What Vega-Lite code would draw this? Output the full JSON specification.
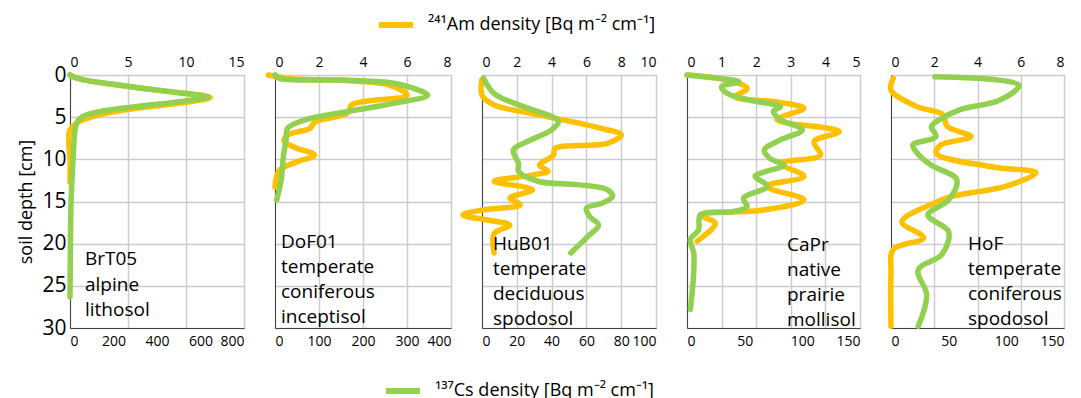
{
  "$schema": "https://vega.github.io/schema/vega-lite/v6.json",
  "padding": {"left": 17, "top": 5, "right": 5, "bottom": 5},
  "datasets": {
    "profiles": [
      {"site":"BrT05","nuclide":"Cs","depth":0,"value":0},
      {"site":"BrT05","nuclide":"Cs","depth":0.3,"value":25},
      {"site":"BrT05","nuclide":"Cs","depth":0.7,"value":90},
      {"site":"BrT05","nuclide":"Cs","depth":1.1,"value":200},
      {"site":"BrT05","nuclide":"Cs","depth":1.6,"value":340},
      {"site":"BrT05","nuclide":"Cs","depth":2.1,"value":500},
      {"site":"BrT05","nuclide":"Cs","depth":2.6,"value":635},
      {"site":"BrT05","nuclide":"Cs","depth":3.1,"value":520},
      {"site":"BrT05","nuclide":"Cs","depth":3.75,"value":300},
      {"site":"BrT05","nuclide":"Cs","depth":4.3,"value":145},
      {"site":"BrT05","nuclide":"Cs","depth":4.9,"value":60},
      {"site":"BrT05","nuclide":"Cs","depth":5.5,"value":35},
      {"site":"BrT05","nuclide":"Cs","depth":6.2,"value":25},
      {"site":"BrT05","nuclide":"Cs","depth":8,"value":18},
      {"site":"BrT05","nuclide":"Cs","depth":10,"value":14},
      {"site":"BrT05","nuclide":"Cs","depth":13,"value":8},
      {"site":"BrT05","nuclide":"Cs","depth":16,"value":4},
      {"site":"BrT05","nuclide":"Cs","depth":20,"value":2},
      {"site":"BrT05","nuclide":"Cs","depth":26.3,"value":0},
      {"site":"BrT05","nuclide":"Am","depth":0,"value":0},
      {"site":"BrT05","nuclide":"Am","depth":0.3,"value":0.4},
      {"site":"BrT05","nuclide":"Am","depth":0.7,"value":1.6},
      {"site":"BrT05","nuclide":"Am","depth":1.1,"value":3.6},
      {"site":"BrT05","nuclide":"Am","depth":1.6,"value":6.3},
      {"site":"BrT05","nuclide":"Am","depth":2.1,"value":9.4},
      {"site":"BrT05","nuclide":"Am","depth":2.65,"value":12.1},
      {"site":"BrT05","nuclide":"Am","depth":3.2,"value":10.2},
      {"site":"BrT05","nuclide":"Am","depth":3.8,"value":6.5},
      {"site":"BrT05","nuclide":"Am","depth":4.4,"value":3.6},
      {"site":"BrT05","nuclide":"Am","depth":5,"value":1.8},
      {"site":"BrT05","nuclide":"Am","depth":5.6,"value":0.7},
      {"site":"BrT05","nuclide":"Am","depth":6.5,"value":0},
      {"site":"BrT05","nuclide":"Am","depth":8,"value":-0.1},
      {"site":"BrT05","nuclide":"Am","depth":10,"value":0},
      {"site":"BrT05","nuclide":"Am","depth":12.7,"value":0},

      {"site":"DoF01","nuclide":"Cs","depth":0,"value":0},
      {"site":"DoF01","nuclide":"Cs","depth":0.4,"value":10},
      {"site":"DoF01","nuclide":"Cs","depth":0.6,"value":150},
      {"site":"DoF01","nuclide":"Cs","depth":0.9,"value":260},
      {"site":"DoF01","nuclide":"Cs","depth":1.5,"value":310},
      {"site":"DoF01","nuclide":"Cs","depth":2.4,"value":347},
      {"site":"DoF01","nuclide":"Cs","depth":3.3,"value":275},
      {"site":"DoF01","nuclide":"Cs","depth":4.3,"value":170},
      {"site":"DoF01","nuclide":"Cs","depth":5.3,"value":70},
      {"site":"DoF01","nuclide":"Cs","depth":6.3,"value":29},
      {"site":"DoF01","nuclide":"Cs","depth":7.7,"value":25},
      {"site":"DoF01","nuclide":"Cs","depth":9.7,"value":19},
      {"site":"DoF01","nuclide":"Cs","depth":12.4,"value":14},
      {"site":"DoF01","nuclide":"Cs","depth":14.8,"value":4},
      {"site":"DoF01","nuclide":"Am","depth":0,"value":-0.3},
      {"site":"DoF01","nuclide":"Am","depth":0.4,"value":0.6},
      {"site":"DoF01","nuclide":"Am","depth":0.7,"value":3.5},
      {"site":"DoF01","nuclide":"Am","depth":1.2,"value":5.2},
      {"site":"DoF01","nuclide":"Am","depth":2.4,"value":6.0},
      {"site":"DoF01","nuclide":"Am","depth":3.5,"value":3.5},
      {"site":"DoF01","nuclide":"Am","depth":4.5,"value":3.3},
      {"site":"DoF01","nuclide":"Am","depth":5.6,"value":1.8},
      {"site":"DoF01","nuclide":"Am","depth":6.3,"value":1.6},
      {"site":"DoF01","nuclide":"Am","depth":7.1,"value":0.6},
      {"site":"DoF01","nuclide":"Am","depth":7.8,"value":0.4},
      {"site":"DoF01","nuclide":"Am","depth":8.6,"value":0.9},
      {"site":"DoF01","nuclide":"Am","depth":9.5,"value":1.8},
      {"site":"DoF01","nuclide":"Am","depth":10.3,"value":1.0},
      {"site":"DoF01","nuclide":"Am","depth":11.3,"value":0.2},
      {"site":"DoF01","nuclide":"Am","depth":13.3,"value":0},

      {"site":"HuB01","nuclide":"Cs","depth":0.4,"value":1},
      {"site":"HuB01","nuclide":"Cs","depth":2.2,"value":7},
      {"site":"HuB01","nuclide":"Cs","depth":3.9,"value":26},
      {"site":"HuB01","nuclide":"Cs","depth":4.9,"value":40},
      {"site":"HuB01","nuclide":"Cs","depth":5.5,"value":44},
      {"site":"HuB01","nuclide":"Cs","depth":6.5,"value":40},
      {"site":"HuB01","nuclide":"Cs","depth":7.9,"value":26},
      {"site":"HuB01","nuclide":"Cs","depth":8.9,"value":18},
      {"site":"HuB01","nuclide":"Cs","depth":10.5,"value":21},
      {"site":"HuB01","nuclide":"Cs","depth":11.4,"value":21},
      {"site":"HuB01","nuclide":"Cs","depth":12.6,"value":32},
      {"site":"HuB01","nuclide":"Cs","depth":13,"value":55},
      {"site":"HuB01","nuclide":"Cs","depth":13.6,"value":72},
      {"site":"HuB01","nuclide":"Cs","depth":14.4,"value":75},
      {"site":"HuB01","nuclide":"Cs","depth":15.2,"value":69},
      {"site":"HuB01","nuclide":"Cs","depth":15.8,"value":60},
      {"site":"HuB01","nuclide":"Cs","depth":16.8,"value":62},
      {"site":"HuB01","nuclide":"Cs","depth":17.8,"value":67},
      {"site":"HuB01","nuclide":"Cs","depth":19.1,"value":61},
      {"site":"HuB01","nuclide":"Cs","depth":21.1,"value":51},
      {"site":"HuB01","nuclide":"Am","depth":0.5,"value":0},
      {"site":"HuB01","nuclide":"Am","depth":2.4,"value":0},
      {"site":"HuB01","nuclide":"Am","depth":3.55,"value":0.7},
      {"site":"HuB01","nuclide":"Am","depth":4.7,"value":3.2},
      {"site":"HuB01","nuclide":"Am","depth":6.3,"value":6.8},
      {"site":"HuB01","nuclide":"Am","depth":7.1,"value":8.0},
      {"site":"HuB01","nuclide":"Am","depth":8.1,"value":7.2},
      {"site":"HuB01","nuclide":"Am","depth":8.7,"value":4.2},
      {"site":"HuB01","nuclide":"Am","depth":9.5,"value":4.1},
      {"site":"HuB01","nuclide":"Am","depth":10.7,"value":3.3},
      {"site":"HuB01","nuclide":"Am","depth":11.4,"value":3.8},
      {"site":"HuB01","nuclide":"Am","depth":11.9,"value":2.8},
      {"site":"HuB01","nuclide":"Am","depth":12.6,"value":0.7},
      {"site":"HuB01","nuclide":"Am","depth":13.6,"value":2.9},
      {"site":"HuB01","nuclide":"Am","depth":14.6,"value":1.6},
      {"site":"HuB01","nuclide":"Am","depth":15.4,"value":2.2},
      {"site":"HuB01","nuclide":"Am","depth":16,"value":0},
      {"site":"HuB01","nuclide":"Am","depth":16.6,"value":-1.1},
      {"site":"HuB01","nuclide":"Am","depth":17.2,"value":0.3},
      {"site":"HuB01","nuclide":"Am","depth":17.8,"value":1.6},
      {"site":"HuB01","nuclide":"Am","depth":18.8,"value":0.7},
      {"site":"HuB01","nuclide":"Am","depth":21.1,"value":0.7},

      {"site":"CaPr","nuclide":"Cs","depth":0,"value":0},
      {"site":"CaPr","nuclide":"Cs","depth":0.4,"value":27.5},
      {"site":"CaPr","nuclide":"Cs","depth":0.8,"value":45},
      {"site":"CaPr","nuclide":"Cs","depth":1.4,"value":30},
      {"site":"CaPr","nuclide":"Cs","depth":2.2,"value":35},
      {"site":"CaPr","nuclide":"Cs","depth":3.0,"value":55},
      {"site":"CaPr","nuclide":"Cs","depth":3.75,"value":81},
      {"site":"CaPr","nuclide":"Cs","depth":4.3,"value":75},
      {"site":"CaPr","nuclide":"Cs","depth":5.3,"value":81},
      {"site":"CaPr","nuclide":"Cs","depth":6.5,"value":100},
      {"site":"CaPr","nuclide":"Cs","depth":7.7,"value":81},
      {"site":"CaPr","nuclide":"Cs","depth":8.9,"value":67},
      {"site":"CaPr","nuclide":"Cs","depth":9.9,"value":72},
      {"site":"CaPr","nuclide":"Cs","depth":10.7,"value":84},
      {"site":"CaPr","nuclide":"Cs","depth":11.5,"value":67},
      {"site":"CaPr","nuclide":"Cs","depth":12.0,"value":59},
      {"site":"CaPr","nuclide":"Cs","depth":13.2,"value":69.5},
      {"site":"CaPr","nuclide":"Cs","depth":14.6,"value":49},
      {"site":"CaPr","nuclide":"Cs","depth":15.6,"value":52},
      {"site":"CaPr","nuclide":"Cs","depth":16.2,"value":40},
      {"site":"CaPr","nuclide":"Cs","depth":16.6,"value":11.6},
      {"site":"CaPr","nuclide":"Cs","depth":18.4,"value":10},
      {"site":"CaPr","nuclide":"Cs","depth":19.5,"value":2.9},
      {"site":"CaPr","nuclide":"Cs","depth":21.1,"value":5.8},
      {"site":"CaPr","nuclide":"Cs","depth":23.5,"value":5.8},
      {"site":"CaPr","nuclide":"Cs","depth":27.8,"value":2.9},
      {"site":"CaPr","nuclide":"Am","depth":0,"value":0},
      {"site":"CaPr","nuclide":"Am","depth":0.6,"value":1.16},
      {"site":"CaPr","nuclide":"Am","depth":1.6,"value":1.74},
      {"site":"CaPr","nuclide":"Am","depth":2.6,"value":1.4},
      {"site":"CaPr","nuclide":"Am","depth":3.2,"value":2.6},
      {"site":"CaPr","nuclide":"Am","depth":3.95,"value":3.38},
      {"site":"CaPr","nuclide":"Am","depth":5.3,"value":2.6},
      {"site":"CaPr","nuclide":"Am","depth":6.7,"value":4.4},
      {"site":"CaPr","nuclide":"Am","depth":7.9,"value":3.67},
      {"site":"CaPr","nuclide":"Am","depth":9.5,"value":3.86},
      {"site":"CaPr","nuclide":"Am","depth":10.5,"value":2.7},
      {"site":"CaPr","nuclide":"Am","depth":12,"value":3.38},
      {"site":"CaPr","nuclide":"Am","depth":13.2,"value":2.3},
      {"site":"CaPr","nuclide":"Am","depth":14.8,"value":3.38},
      {"site":"CaPr","nuclide":"Am","depth":16,"value":2.22},
      {"site":"CaPr","nuclide":"Am","depth":16.6,"value":0.39},
      {"site":"CaPr","nuclide":"Am","depth":17.6,"value":0.82},
      {"site":"CaPr","nuclide":"Am","depth":19.7,"value":0.29},

      {"site":"HoF","nuclide":"Cs","depth":0.2,"value":38},
      {"site":"HoF","nuclide":"Cs","depth":1.2,"value":111},
      {"site":"HoF","nuclide":"Cs","depth":3.0,"value":94},
      {"site":"HoF","nuclide":"Cs","depth":4.1,"value":60},
      {"site":"HoF","nuclide":"Cs","depth":5.3,"value":42},
      {"site":"HoF","nuclide":"Cs","depth":6.1,"value":35},
      {"site":"HoF","nuclide":"Cs","depth":7.3,"value":39},
      {"site":"HoF","nuclide":"Cs","depth":8.3,"value":19},
      {"site":"HoF","nuclide":"Cs","depth":9.3,"value":23},
      {"site":"HoF","nuclide":"Cs","depth":10.7,"value":35},
      {"site":"HoF","nuclide":"Cs","depth":12.4,"value":57},
      {"site":"HoF","nuclide":"Cs","depth":14.8,"value":50},
      {"site":"HoF","nuclide":"Cs","depth":16.6,"value":32},
      {"site":"HoF","nuclide":"Cs","depth":18.6,"value":50},
      {"site":"HoF","nuclide":"Cs","depth":21.3,"value":44},
      {"site":"HoF","nuclide":"Cs","depth":23.1,"value":23.6},
      {"site":"HoF","nuclide":"Cs","depth":26.1,"value":31},
      {"site":"HoF","nuclide":"Cs","depth":29.8,"value":23.6},
      {"site":"HoF","nuclide":"Am","depth":0.4,"value":0.1},
      {"site":"HoF","nuclide":"Am","depth":1.8,"value":0},
      {"site":"HoF","nuclide":"Am","depth":3.75,"value":1.2},
      {"site":"HoF","nuclide":"Am","depth":4.7,"value":2.4},
      {"site":"HoF","nuclide":"Am","depth":6.1,"value":2.6},
      {"site":"HoF","nuclide":"Am","depth":7.3,"value":3.7},
      {"site":"HoF","nuclide":"Am","depth":8.3,"value":2.3},
      {"site":"HoF","nuclide":"Am","depth":9.3,"value":2.1},
      {"site":"HoF","nuclide":"Am","depth":10.9,"value":4.7},
      {"site":"HoF","nuclide":"Am","depth":11.6,"value":6.7},
      {"site":"HoF","nuclide":"Am","depth":13.2,"value":5.3},
      {"site":"HoF","nuclide":"Am","depth":14.4,"value":2.8},
      {"site":"HoF","nuclide":"Am","depth":15.4,"value":1.8},
      {"site":"HoF","nuclide":"Am","depth":17.4,"value":0.5},
      {"site":"HoF","nuclide":"Am","depth":19.3,"value":1.5},
      {"site":"HoF","nuclide":"Am","depth":20.7,"value":0.1},
      {"site":"HoF","nuclide":"Am","depth":23.5,"value":0},
      {"site":"HoF","nuclide":"Am","depth":29.8,"value":0}
    ]
  },
  "spacing": 31,
  "bounds": "flush",
  "hconcat": [
    {
      "width": 174, "height": 253,
      "layer": [
        {"data": {"name": "profiles"}, "transform": [{"filter": "datum.site === 'BrT05' && datum.nuclide === 'Am'"}],
         "mark": {"type": "line", "interpolate": "catmull-rom", "strokeWidth": 5.5, "strokeCap": "round", "strokeJoin": "round", "clip": false},
         "encoding": {
           "x": {"field": "value", "type": "quantitative", "scale": {"domain": [0, 15], "nice": false, "zero": false}, "axis": {"orient": "top", "values": [0, 5, 10, 15], "title": null, "grid": true}},
           "y": {"field": "depth", "type": "quantitative", "scale": {"domain": [0, 30], "reverse": true, "nice": false}, "axis": {"values": [0, 5, 10, 15, 20, 25, 30], "title": "soil depth [cm]", "labelFontSize": 21, "titleFontSize": 18, "labelPadding": 4, "titlePadding": 6, "domain": true, "domainColor": "#444"}},
           "order": {"field": "depth", "type": "quantitative"},
           "color": {"datum": "²⁴¹Am density [Bq m⁻² cm⁻¹]", "type": "nominal", "scale": {"range": ["#FFC000"]}, "legend": {"orient": "none", "legendX": 306, "legendY": -70, "title": null}}
         }},
        {"data": {"name": "profiles"}, "transform": [{"filter": "datum.site === 'BrT05' && datum.nuclide === 'Cs'"}],
         "mark": {"type": "line", "interpolate": "catmull-rom", "strokeWidth": 5.5, "strokeCap": "round", "strokeJoin": "round", "clip": false},
         "encoding": {
           "x": {"field": "value", "type": "quantitative", "scale": {"domain": [0, 800], "nice": false, "zero": false}, "axis": {"orient": "bottom", "values": [0, 200, 400, 600, 800], "title": null, "grid": false, "domain": true, "domainColor": "#444"}},
           "y": {"field": "depth", "type": "quantitative"},
           "order": {"field": "depth", "type": "quantitative"},
           "stroke": {"datum": "¹³⁷Cs density [Bq m⁻² cm⁻¹]", "type": "nominal", "scale": {"range": ["#92D050"]}, "legend": {"orient": "none", "legendX": 313, "legendY": 296, "title": null}}
         }},
        {"data": {"values": [{"label": "BrT05\nalpine\nlithosol"}]},
         "mark": {"type": "text", "align": "left", "baseline": "top", "lineBreak": "\n", "fontSize": 19, "lineHeight": 25.5, "font": "Open Sans", "color": "#000"},
         "encoding": {
           "x": {"datum": 0.086, "type": "quantitative", "scale": {"domain": [0, 1]}, "axis": null},
           "y": {"datum": 20.8, "type": "quantitative"},
           "text": {"field": "label"}
         }}
      ],
      "resolve": {"scale": {"x": "independent"}}
    },
    {
      "width": 176, "height": 253,
      "layer": [
        {"data": {"name": "profiles"}, "transform": [{"filter": "datum.site === 'DoF01' && datum.nuclide === 'Am'"}],
         "mark": {"type": "line", "interpolate": "catmull-rom", "strokeWidth": 5.5, "strokeCap": "round", "strokeJoin": "round", "clip": false},
         "encoding": {
           "x": {"field": "value", "type": "quantitative", "scale": {"domain": [0, 8], "nice": false, "zero": false}, "axis": {"orient": "top", "values": [0, 2, 4, 6, 8], "title": null, "grid": true}},
           "y": {"field": "depth", "type": "quantitative", "scale": {"domain": [0, 30], "reverse": true, "nice": false}, "axis": {"values": [0, 5, 10, 15, 20, 25, 30], "labels": false, "title": null, "domain": true, "domainColor": "#444"}},
           "order": {"field": "depth", "type": "quantitative"},
           "color": {"datum": "²⁴¹Am density [Bq m⁻² cm⁻¹]", "type": "nominal"}
         }},
        {"data": {"name": "profiles"}, "transform": [{"filter": "datum.site === 'DoF01' && datum.nuclide === 'Cs'"}],
         "mark": {"type": "line", "interpolate": "catmull-rom", "strokeWidth": 5.5, "strokeCap": "round", "strokeJoin": "round", "clip": false},
         "encoding": {
           "x": {"field": "value", "type": "quantitative", "scale": {"domain": [0, 400], "nice": false, "zero": false}, "axis": {"orient": "bottom", "values": [0, 100, 200, 300, 400], "title": null, "grid": false, "domain": true, "domainColor": "#444"}},
           "y": {"field": "depth", "type": "quantitative"},
           "order": {"field": "depth", "type": "quantitative"},
           "stroke": {"datum": "¹³⁷Cs density [Bq m⁻² cm⁻¹]", "type": "nominal"}
         }},
        {"data": {"values": [{"label": "DoF01\ntemperate\nconiferous\ninceptisol"}]},
         "mark": {"type": "text", "align": "left", "baseline": "top", "lineBreak": "\n", "fontSize": 19, "lineHeight": 25, "font": "Open Sans", "color": "#000"},
         "encoding": {
           "x": {"datum": 0.034, "type": "quantitative", "scale": {"domain": [0, 1]}, "axis": null},
           "y": {"datum": 18.7, "type": "quantitative"},
           "text": {"field": "label"}
         }}
      ],
      "resolve": {"scale": {"x": "independent"}}
    },
    {
      "width": 174, "height": 253,
      "layer": [
        {"data": {"name": "profiles"}, "transform": [{"filter": "datum.site === 'HuB01' && datum.nuclide === 'Am'"}],
         "mark": {"type": "line", "interpolate": "catmull-rom", "strokeWidth": 5.5, "strokeCap": "round", "strokeJoin": "round", "clip": false},
         "encoding": {
           "x": {"field": "value", "type": "quantitative", "scale": {"domain": [0, 10], "nice": false, "zero": false}, "axis": {"orient": "top", "values": [0, 2, 4, 6, 8, 10], "title": null, "grid": true}},
           "y": {"field": "depth", "type": "quantitative", "scale": {"domain": [0, 30], "reverse": true, "nice": false}, "axis": {"values": [0, 5, 10, 15, 20, 25, 30], "labels": false, "title": null, "domain": true, "domainColor": "#444"}},
           "order": {"field": "depth", "type": "quantitative"},
           "color": {"datum": "²⁴¹Am density [Bq m⁻² cm⁻¹]", "type": "nominal"}
         }},
        {"data": {"name": "profiles"}, "transform": [{"filter": "datum.site === 'HuB01' && datum.nuclide === 'Cs'"}],
         "mark": {"type": "line", "interpolate": "catmull-rom", "strokeWidth": 5.5, "strokeCap": "round", "strokeJoin": "round", "clip": false},
         "encoding": {
           "x": {"field": "value", "type": "quantitative", "scale": {"domain": [0, 100], "nice": false, "zero": false}, "axis": {"orient": "bottom", "values": [0, 20, 40, 60, 80, 100], "title": null, "grid": false, "domain": true, "domainColor": "#444"}},
           "y": {"field": "depth", "type": "quantitative"},
           "order": {"field": "depth", "type": "quantitative"},
           "stroke": {"datum": "¹³⁷Cs density [Bq m⁻² cm⁻¹]", "type": "nominal"}
         }},
        {"data": {"values": [{"label": "HuB01\ntemperate\ndeciduous\nspodosol"}]},
         "mark": {"type": "text", "align": "left", "baseline": "top", "lineBreak": "\n", "fontSize": 19, "lineHeight": 25, "font": "Open Sans", "color": "#000"},
         "encoding": {
           "x": {"datum": 0.063, "type": "quantitative", "scale": {"domain": [0, 1]}, "axis": null},
           "y": {"datum": 19.0, "type": "quantitative"},
           "text": {"field": "label"}
         }}
      ],
      "resolve": {"scale": {"x": "independent"}}
    },
    {
      "width": 173, "height": 253,
      "layer": [
        {"data": {"name": "profiles"}, "transform": [{"filter": "datum.site === 'CaPr' && datum.nuclide === 'Am'"}],
         "mark": {"type": "line", "interpolate": "catmull-rom", "strokeWidth": 5.5, "strokeCap": "round", "strokeJoin": "round", "clip": false},
         "encoding": {
           "x": {"field": "value", "type": "quantitative", "scale": {"domain": [0, 5], "nice": false, "zero": false}, "axis": {"orient": "top", "values": [0, 1, 2, 3, 4, 5], "title": null, "grid": true}},
           "y": {"field": "depth", "type": "quantitative", "scale": {"domain": [0, 30], "reverse": true, "nice": false}, "axis": {"values": [0, 5, 10, 15, 20, 25, 30], "labels": false, "title": null, "domain": true, "domainColor": "#444"}},
           "order": {"field": "depth", "type": "quantitative"},
           "color": {"datum": "²⁴¹Am density [Bq m⁻² cm⁻¹]", "type": "nominal"}
         }},
        {"data": {"name": "profiles"}, "transform": [{"filter": "datum.site === 'CaPr' && datum.nuclide === 'Cs'"}],
         "mark": {"type": "line", "interpolate": "catmull-rom", "strokeWidth": 5.5, "strokeCap": "round", "strokeJoin": "round", "clip": false},
         "encoding": {
           "x": {"field": "value", "type": "quantitative", "scale": {"domain": [0, 150], "nice": false, "zero": false}, "axis": {"orient": "bottom", "values": [0, 50, 100, 150], "title": null, "grid": false, "domain": true, "domainColor": "#444"}},
           "y": {"field": "depth", "type": "quantitative"},
           "order": {"field": "depth", "type": "quantitative"},
           "stroke": {"datum": "¹³⁷Cs density [Bq m⁻² cm⁻¹]", "type": "nominal"}
         }},
        {"data": {"values": [{"label": "CaPr\nnative\nprairie\nmollisol"}]},
         "mark": {"type": "text", "align": "left", "baseline": "top", "lineBreak": "\n", "fontSize": 19, "lineHeight": 25, "font": "Open Sans", "color": "#000"},
         "encoding": {
           "x": {"datum": 0.578, "type": "quantitative", "scale": {"domain": [0, 1]}, "axis": null},
           "y": {"datum": 19.1, "type": "quantitative"},
           "text": {"field": "label"}
         }}
      ],
      "resolve": {"scale": {"x": "independent"}}
    },
    {
      "width": 173, "height": 253,
      "layer": [
        {"data": {"name": "profiles"}, "transform": [{"filter": "datum.site === 'HoF' && datum.nuclide === 'Am'"}],
         "mark": {"type": "line", "interpolate": "catmull-rom", "strokeWidth": 5.5, "strokeCap": "round", "strokeJoin": "round", "clip": false},
         "encoding": {
           "x": {"field": "value", "type": "quantitative", "scale": {"domain": [0, 8], "nice": false, "zero": false}, "axis": {"orient": "top", "values": [0, 2, 4, 6, 8], "title": null, "grid": true}},
           "y": {"field": "depth", "type": "quantitative", "scale": {"domain": [0, 30], "reverse": true, "nice": false}, "axis": {"values": [0, 5, 10, 15, 20, 25, 30], "labels": false, "title": null, "domain": true, "domainColor": "#444"}},
           "order": {"field": "depth", "type": "quantitative"},
           "color": {"datum": "²⁴¹Am density [Bq m⁻² cm⁻¹]", "type": "nominal"}
         }},
        {"data": {"name": "profiles"}, "transform": [{"filter": "datum.site === 'HoF' && datum.nuclide === 'Cs'"}],
         "mark": {"type": "line", "interpolate": "catmull-rom", "strokeWidth": 5.5, "strokeCap": "round", "strokeJoin": "round", "clip": false},
         "encoding": {
           "x": {"field": "value", "type": "quantitative", "scale": {"domain": [0, 150], "nice": false, "zero": false}, "axis": {"orient": "bottom", "values": [0, 50, 100, 150], "title": null, "grid": false, "domain": true, "domainColor": "#444"}},
           "y": {"field": "depth", "type": "quantitative"},
           "order": {"field": "depth", "type": "quantitative"},
           "stroke": {"datum": "¹³⁷Cs density [Bq m⁻² cm⁻¹]", "type": "nominal"}
         }},
        {"data": {"values": [{"label": "HoF\ntemperate\nconiferous\nspodosol"}]},
         "mark": {"type": "text", "align": "left", "baseline": "top", "lineBreak": "\n", "fontSize": 19, "lineHeight": 25, "font": "Open Sans", "color": "#000"},
         "encoding": {
           "x": {"datum": 0.445, "type": "quantitative", "scale": {"domain": [0, 1]}, "axis": null},
           "y": {"datum": 19.0, "type": "quantitative"},
           "text": {"field": "label"}
         }}
      ],
      "resolve": {"scale": {"x": "independent"}}
    }
  ],
  "config": {
    "font": "Open Sans",
    "view": {"stroke": "#999", "strokeWidth": 1},
    "axis": {"labelFont": "Open Sans", "titleFont": "Open Sans", "labelColor": "#000", "titleColor": "#000", "titleFontWeight": "normal", "labelFontSize": 14, "ticks": false, "tickSize": 0, "labelPadding": 6, "domain": false, "gridColor": "#cccccc", "gridWidth": 1.5},
    "legend": {"symbolType": "stroke", "symbolStrokeWidth": 6, "symbolSize": 1150, "labelFontSize": 18, "labelFont": "Open Sans", "labelColor": "#000", "labelOffset": 12, "labelLimit": 400}
  }
}
